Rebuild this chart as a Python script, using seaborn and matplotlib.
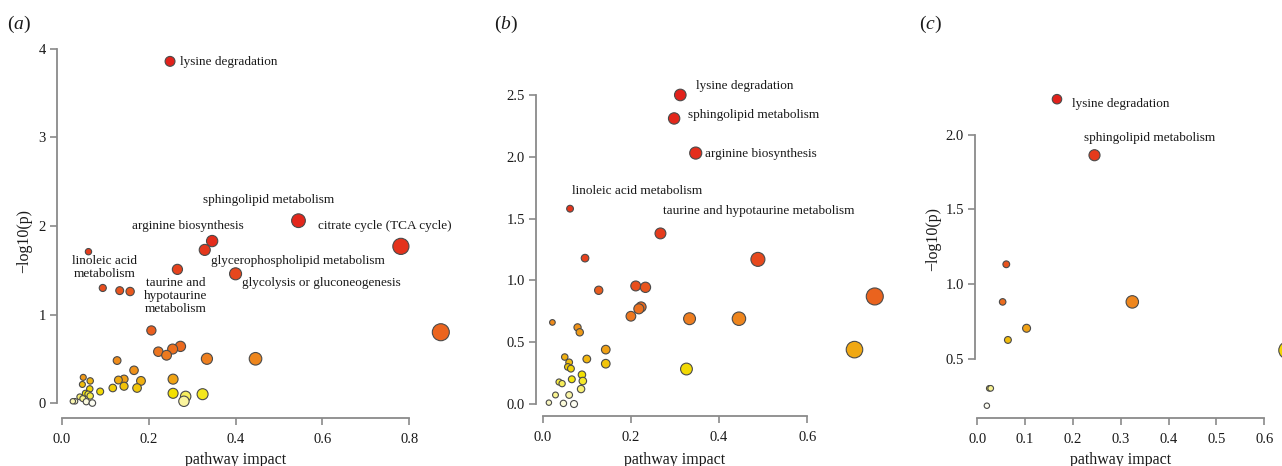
import matplotlib
matplotlib.use("Agg")
import matplotlib.pyplot as plt
import numpy as np
import pandas as pd
import seaborn as sns
from matplotlib.colors import LinearSegmentedColormap

# ---------------- data ----------------
a_impact = [0.249, 0.545, 0.781, 0.346, 0.329, 0.400, 0.266, 0.061, 0.094, 0.133,
            0.157, 0.206, 0.873, 0.222, 0.241, 0.255, 0.273, 0.334, 0.446, 0.127,
            0.166, 0.130, 0.143, 0.182, 0.143, 0.173, 0.117, 0.088, 0.256, 0.256,
            0.285, 0.281, 0.324, 0.049, 0.065, 0.047, 0.064, 0.054, 0.065, 0.041,
            0.048, 0.060, 0.056, 0.070, 0.025, 0.030]
a_logp = [3.86, 2.06, 1.77, 1.83, 1.73, 1.46, 1.51, 1.71, 1.30, 1.27,
          1.26, 0.82, 0.80, 0.58, 0.54, 0.61, 0.64, 0.50, 0.50, 0.48,
          0.37, 0.26, 0.27, 0.25, 0.19, 0.17, 0.17, 0.13, 0.27, 0.11,
          0.075, 0.02, 0.10, 0.29, 0.25, 0.21, 0.16, 0.11, 0.08, 0.07,
          0.05, 0.10, 0.015, 0.00, 0.02, 0.02]

b_impact = [0.312, 0.298, 0.347, 0.062, 0.267, 0.096, 0.488, 0.127, 0.211, 0.233,
            0.753, 0.223, 0.218, 0.200, 0.333, 0.445, 0.022, 0.079, 0.084, 0.143,
            0.707, 0.050, 0.100, 0.060, 0.143, 0.057, 0.064, 0.326, 0.089, 0.066,
            0.091, 0.037, 0.044, 0.087, 0.029, 0.060, 0.014, 0.047, 0.071]
b_logp = [2.50, 2.31, 2.03, 1.58, 1.38, 1.18, 1.17, 0.92, 0.955, 0.944,
          0.87, 0.785, 0.77, 0.71, 0.69, 0.69, 0.66, 0.62, 0.58, 0.44,
          0.44, 0.38, 0.364, 0.337, 0.326, 0.30, 0.286, 0.283, 0.237, 0.20,
          0.186, 0.178, 0.165, 0.121, 0.073, 0.073, 0.011, 0.005, 0.0]

c_impact = [0.1666, 0.245, 0.0606, 0.053, 0.324, 0.103, 0.064, 0.648, 0.025, 0.028, 0.020]
c_logp = [2.236, 1.862, 1.134, 0.883, 0.883, 0.707, 0.629, 0.560, 0.306, 0.306, 0.19]

a_labels = ["lysine degradation", "sphingolipid metabolism", "arginine biosynthesis",
            "citrate cycle (TCA cycle)", "glycerophospholipid metabolism",
            "glycolysis or gluconeogenesis", "linoleic acid\nmetabolism",
            "taurine and\nhypotaurine\nmetabolism"]
b_labels = ["lysine degradation", "sphingolipid metabolism", "arginine biosynthesis",
            "linoleic acid metabolism", "taurine and hypotaurine metabolism"]
c_labels = ["lysine degradation", "sphingolipid metabolism"]

a_xticks = [0.0, 0.2, 0.4, 0.6, 0.8]
a_yticks = [0, 1, 2, 3, 4]
b_xticks = [0.0, 0.2, 0.4, 0.6]
b_yticks = [0.0, 0.5, 1.0, 1.5, 2.0, 2.5]
c_xticks = [0.0, 0.1, 0.2, 0.3, 0.4, 0.5, 0.6]
c_yticks = [0.5, 1.0, 1.5, 2.0]

# ---------------- style ----------------
sns.set_style("white")
plt.rcParams["font.family"] = ["Liberation Serif", "DejaVu Serif"]
plt.rcParams["mathtext.fontset"] = "custom"
plt.rcParams["mathtext.rm"] = "Liberation Serif"
plt.rcParams["mathtext.it"] = "Liberation Serif:italic"

heat = LinearSegmentedColormap.from_list(
    "heat", [(0.0, "#e2211b"), (0.375, "#ee7f1f"), (0.75, "#f3e400"), (1.0, "#fdfdf2")])

W, H = 1282, 466
fig = plt.figure(figsize=(W / 100, H / 100), dpi=100)

def make_axes(l, r, t, b):
    return fig.add_axes([l / W, 1 - b / H, (r - l) / W, (b - t) / H])

def panel(ax, impact, logp, xlim, ylim, xticks, yticks, yfmt):
    df = pd.DataFrame({"impact": impact, "logp": logp})
    n = len(df)
    df["rank"] = (df["logp"].rank(ascending=False, method="first") - 1) / (n - 1)
    df = df.sort_values("logp", ascending=False)
    sns.scatterplot(data=df, x="impact", y="logp", hue="rank", palette=heat,
                    hue_norm=(0, 1), size="impact", sizes=(15, 150),
                    size_norm=(df["impact"].min(), df["impact"].max()),
                    edgecolor="#4a4a4a", linewidth=0.8, legend=False, ax=ax,
                    clip_on=False, zorder=3)
    ax.set_xlim(*xlim)
    ax.set_ylim(*ylim)
    for s in ["top", "right"]:
        ax.spines[s].set_visible(False)
    for s in ["left", "bottom"]:
        ax.spines[s].set_color("#8a8a8a")
        ax.spines[s].set_linewidth(1.3)
    ax.spines["bottom"].set_bounds(xticks[0], xticks[-1])
    ax.spines["left"].set_bounds(yticks[0], yticks[-1])
    ax.set_xticks(xticks)
    ax.set_yticks(yticks)
    ax.set_xticklabels([f"{v:.1f}" for v in xticks])
    ax.set_yticklabels([yfmt.format(v) for v in yticks])
    ax.tick_params(axis="both", direction="out", length=5, width=1.2, color="#8a8a8a",
                   labelsize=10.5, labelcolor="#1a1a1a", left=True, bottom=True)
    ax.tick_params(axis="x", pad=6)
    ax.tick_params(axis="y", pad=3)
    ax.set_xlabel("")
    ax.set_ylabel("")
    ax.patch.set_alpha(0)

def ftext(px, py, s, **kw):
    fig.text(px / W, 1 - py / H, s, **kw)

txt = dict(fontsize=9.5, color="#1a1a1a", zorder=5)

# panel a
axa = make_axes(57, 456, 48, 418)
panel(axa, a_impact, a_logp, (-0.0115, 0.908), (-0.169, 4.011), a_xticks, a_yticks, "{:.0f}")
a_pos = [(0.271, 3.85, "left"), (0.476, 2.29, "center"), (0.290, 2.00, "center"),
         (0.589, 2.00, "left"), (0.543, 1.61, "center"), (0.597, 1.36, "center"),
         (0.098, 1.53, "center"), (0.262, 1.21, "center")]
for lab, (x, y, ha) in zip(a_labels, a_pos):
    axa.text(x, y, lab, ha=ha, va="center", linespacing=1.1, **txt)

# panel b
axb = make_axes(536, 888, 82.6, 416)
panel(axb, b_impact, b_logp, (-0.0152, 0.783), (-0.097, 2.60), b_xticks, b_yticks, "{:.1f}")
b_pos = [(0.347, 2.57, "left"), (0.329, 2.34, "left"), (0.368, 2.025, "left"),
         (0.213, 1.72, "center"), (0.490, 1.564, "center")]
for lab, (x, y, ha) in zip(b_labels, b_pos):
    axb.text(x, y, lab, ha=ha, va="center", **txt)

# panel c
axc = make_axes(975, 1297.8, 86.6, 418)
panel(axc, c_impact, c_logp, (-0.0048, 0.67), (0.108, 2.32), c_xticks, c_yticks, "{:.1f}")
c_pos = [(0.197, 2.205, "left"), (0.3596, 1.98, "center")]
for lab, (x, y, ha) in zip(c_labels, c_pos):
    axc.text(x, y, lab, ha=ha, va="center", **txt)

# axis titles
lab = dict(fontsize=11.5, color="#1a1a1a", ha="center", va="center")
ftext(235.5, 460, "pathway impact", **lab)
ftext(675, 460, "pathway impact", **lab)
ftext(1120.8, 460, "pathway impact", **lab)
ftext(24, 241, "\u2212log10(p)", rotation=90, **lab)
ftext(933, 239, "\u2212log10(p)", rotation=90, **lab)

# panel letters
pl = dict(fontsize=14, color="#1a1a1a", ha="left", va="center")
ftext(7, 24, r"($\it{a}$)", **pl)
ftext(494, 24, r"($\it{b}$)", **pl)
ftext(919, 24, r"($\it{c}$)", **pl)

fig.savefig("out.png", dpi=100)
